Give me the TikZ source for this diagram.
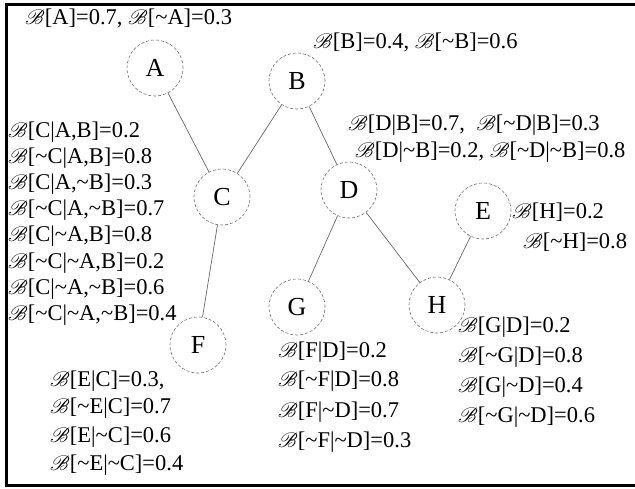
\documentclass[tikz,border=0pt]{standalone}
\usepackage{fontspec}
\usepackage{mathrsfs}
\setmainfont{Liberation Serif}
\newcommand{\Bs}{$\mathscr{B}$}
\newcommand{\Tl}{\textasciitilde}
\begin{document}
\begin{tikzpicture}[x=1pt,y=-1pt,
  vtx/.style={circle,draw=black!55,densely dashed,line width=0.6pt,minimum size=56pt,inner sep=0pt,font=\fontsize{26}{30}\selectfont},
  lbl/.style={anchor=west,inner sep=0pt,font=\fontsize{22.5}{26}\selectfont},
  edge/.style={draw=black!60,line width=0.7pt}]
\useasboundingbox (0,0) rectangle (635,489);
\draw[line width=3pt] (635,5) -- (6.5,5) -- (6.5,485.5) -- (635,485.5);
% vertices
\node[vtx] (A) at (155,68) {A};
\node[vtx] (B) at (297,81) {B};
\node[vtx] (C) at (222,197) {C};
\node[vtx] (D) at (349,190) {D};
\node[vtx] (E) at (483,211) {E};
\node[vtx] (F) at (198,345) {F};
\node[vtx] (G) at (297,307) {G};
\node[vtx] (H) at (437,305) {H};
% edges
\draw[edge] (A) -- (C);
\draw[edge] (B) -- (C);
\draw[edge] (B) -- (D);
\draw[edge] (C) -- (F);
\draw[edge] (D) -- (G);
\draw[edge] (D) -- (H);
\draw[edge] (E) -- (H);
% labels
\node[lbl] (lA) at (25,18) {\Bs[A]=0.7, \Bs[\Tl A]=0.3};
\node[lbl] (lB) at (313,42) {\Bs[B]=0.4, \Bs[\Tl B]=0.6};
\node[lbl] (lC1) at (8,132) {\Bs[C|A,B]=0.2};
\node[lbl] (lC2) at (8,158) {\Bs[\Tl C|A,B]=0.8};
\node[lbl] (lC3) at (8,184) {\Bs[C|A,\Tl B]=0.3};
\node[lbl] (lC4) at (8,210) {\Bs[\Tl C|A,\Tl B]=0.7};
\node[lbl] (lC5) at (8,236) {\Bs[C|\Tl A,B]=0.8};
\node[lbl] (lC6) at (8,263) {\Bs[\Tl C|\Tl A,B]=0.2};
\node[lbl] (lC7) at (8,289) {\Bs[C|\Tl A,\Tl B]=0.6};
\node[lbl] (lC8) at (8,315) {\Bs[\Tl C|\Tl A,\Tl B]=0.4};
\node[lbl] (lD1) at (348,125) {\Bs[D|B]=0.7,\ \ \Bs[\Tl D|B]=0.3};
\node[lbl] (lD2) at (355,152) {\Bs[D|\Tl B]=0.2, \Bs[\Tl D|\Tl B]=0.8};
\node[lbl] (lE1) at (512,212) {\Bs[H]=0.2};
\node[lbl] (lE2) at (523,242) {\Bs[\Tl H]=0.8};
\node[lbl] (lF1) at (50,381) {\Bs[E|C]=0.3,};
\node[lbl] (lF2) at (50,408) {\Bs[\Tl E|C]=0.7};
\node[lbl] (lF3) at (50,437) {\Bs[E|\Tl C]=0.6};
\node[lbl] (lF4) at (50,465) {\Bs[\Tl E|\Tl C]=0.4};
\node[lbl] (lG1) at (278,352) {\Bs[F|D]=0.2};
\node[lbl] (lG2) at (278,381) {\Bs[\Tl F|D]=0.8};
\node[lbl] (lG3) at (278,412) {\Bs[F|\Tl D]=0.7};
\node[lbl] (lG4) at (278,442) {\Bs[\Tl F|\Tl D]=0.3};
\node[lbl] (lH1) at (458,327) {\Bs[G|D]=0.2};
\node[lbl] (lH2) at (458,357) {\Bs[\Tl G|D]=0.8};
\node[lbl] (lH3) at (458,387) {\Bs[G|\Tl D]=0.4};
\node[lbl] (lH4) at (458,417) {\Bs[\Tl G|\Tl D]=0.6};
\end{tikzpicture}
\end{document}
